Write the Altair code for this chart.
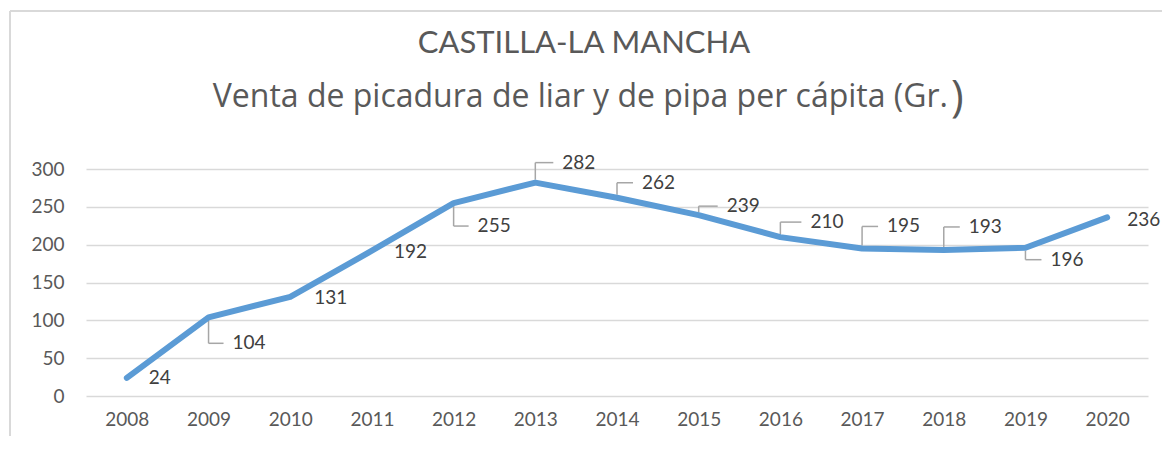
import altair as alt
import pandas as pd

# ---- data ----
years = [2008, 2009, 2010, 2011, 2012, 2013, 2014, 2015, 2016, 2017, 2018, 2019, 2020]
values = [24, 104, 131, 192, 255, 282, 262, 239, 210, 195, 193, 196, 236]
y_ticks = [0, 50, 100, 150, 200, 250, 300]

title_main = "CASTILLA-LA MANCHA"
title_sub = "Venta de picadura de liar y de pipa per cápita (Gr."
title_paren = ")"

# ---- label layout (pixel offsets of each data label from its point) ----
label_dx = [22, 24, 24, 22, 24, 27, 25, 28, 30, 25, 25, 25, 20]
label_dy = [0, 26, 1, 1, 23, -20, -15, -9, -15, -22, -23, 12, 3]
has_leader = [False, True, False, False, True, True, True, True, True, True, True, True, False]

W, H = 1062, 227
x_domain = [2007.5, 2020.5]
y_domain = [0, 300]
ppx = W / (x_domain[1] - x_domain[0])
ppy = H / (y_domain[1] - y_domain[0])

FONT = "Lato"
LINE_COLOR = "#5B9BD5"

df = pd.DataFrame({"year": years, "value": values})

lab = pd.DataFrame({
    "year": years,
    "value": values,
    "lx": [y + dx / ppx for y, dx in zip(years, label_dx)],
    "ly": [v - dy / ppy for v, dy in zip(values, label_dy)],
    "txt": [str(v) for v in values],
})

segs = []
for yr, v, dx, dy, lead in zip(years, values, label_dx, label_dy, has_leader):
    if not lead:
        continue
    lx = yr + dx / ppx
    ly = v - dy / ppy
    start = v + (3 / ppy if dy < 0 else -3 / ppy)
    segs.append({"x": yr, "x2": yr, "y": start, "y2": ly})
    segs.append({"x": yr, "x2": lx - 9 / ppx, "y": ly, "y2": ly})
seg_df = pd.DataFrame(segs)

xs = alt.Scale(domain=x_domain, nice=False, zero=False)
ys = alt.Scale(domain=y_domain, nice=False)

x_axis = alt.Axis(
    values=years, format="d", title=None, grid=False, domain=False, ticks=False,
    labelFont=FONT, labelFontSize=19, labelColor="#595959", labelPadding=14,
    labelFlush=False, labelOverlap=False)
y_axis = alt.Axis(
    values=y_ticks, title=None, domain=False, ticks=False, grid=True,
    gridColor="#d9d9d9", gridWidth=1.3, labelOverlap=False,
    labelFont=FONT, labelFontSize=19, labelColor="#595959", labelPadding=22)

one = pd.DataFrame({"k": [0]})

line = alt.Chart(df).mark_line(
    color=LINE_COLOR, strokeWidth=6, strokeCap="round", strokeJoin="round"
).encode(
    x=alt.X("year:Q", scale=xs, axis=x_axis),
    y=alt.Y("value:Q", scale=ys, axis=y_axis),
)

leaders = alt.Chart(seg_df).mark_rule(color="#a6a6a6", strokeWidth=1.5).encode(
    x=alt.X("x:Q", scale=xs, axis=x_axis), x2="x2:Q",
    y=alt.Y("y:Q", scale=ys, axis=y_axis), y2="y2:Q",
)

labels = alt.Chart(lab).mark_text(
    font=FONT, fontSize=19, color="#404040", align="left", baseline="middle"
).encode(
    x=alt.X("lx:Q", scale=xs, axis=x_axis), y=alt.Y("ly:Q", scale=ys, axis=y_axis),
    text="txt:N"
)

t1 = alt.Chart(one).mark_text(
    text=title_main, font=FONT, fontSize=31, color="#595959",
    align="center", baseline="alphabetic"
).encode(x=alt.value(498), y=alt.value(-116))

t2 = alt.Chart(one).mark_text(
    text=title_sub, font="Open Sans", fontSize=32, color="#595959",
    align="right", baseline="alphabetic"
).encode(x=alt.value(862), y=alt.value(-62))

t3 = alt.Chart(one).mark_text(
    text=title_paren, font="Open Sans", fontSize=43, color="#595959",
    align="left", baseline="alphabetic"
).encode(x=alt.value(865), y=alt.value(-58))

border_top = alt.Chart(one).mark_rule(color="#d9d9d9", strokeWidth=2).encode(
    x=alt.value(-76), x2=alt.value(W + 30), y=alt.value(-158), y2=alt.value(-158))
border_left = alt.Chart(one).mark_rule(color="#d9d9d9", strokeWidth=2).encode(
    x=alt.value(-76), x2=alt.value(-76), y=alt.value(-158), y2=alt.value(H + 60))

chart = alt.layer(leaders, line, labels, border_top, border_left, t1, t2, t3).properties(
    width=W, height=H,
    background="white",
    padding={"left": 78, "top": 161, "right": 14, "bottom": 40},
    autosize=alt.AutoSizeParams(type="none"),
).configure_view(stroke=None, strokeWidth=0)

chart.save("out.html", embed_options={"renderer": "svg", "actions": False})
